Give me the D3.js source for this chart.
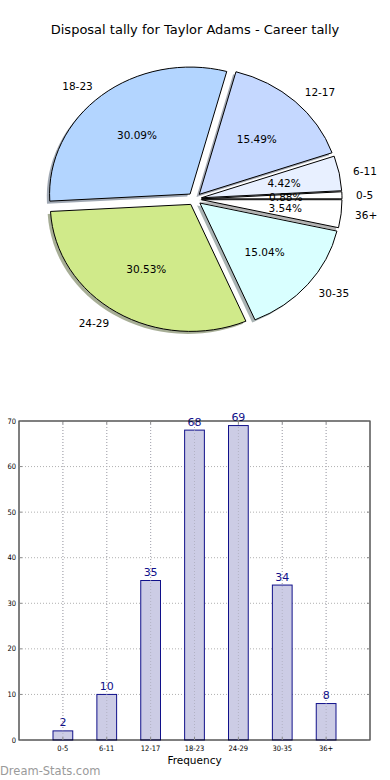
<!DOCTYPE html>
<html>
<head>
<meta charset="utf-8">
<script src="https://cdn.jsdelivr.net/npm/d3@7"></script>
<style>
  html, body { margin: 0; padding: 0; background: #fff; }
  svg { display: block; font-family: "DejaVu Sans", sans-serif; }
</style>
</head>
<body>
<svg id="chart" width="390" height="780"></svg>
<script>
const categories = ["0-5", "6-11", "12-17", "18-23", "24-29", "30-35", "36+"];
const counts = [2, 10, 35, 68, 69, 34, 8];
const sliceColors = ["#ffffff", "#e8f0ff", "#c5d8ff", "#b3d5ff", "#d0ea8a", "#d9ffff", "#ffffff"];
const yTicks = [0, 10, 20, 30, 40, 50, 60, 70];
const titleText = "Disposal tally for Taylor Adams - Career tally";

(function () {
const svg = d3.select("#chart");

// ---------- Title ----------
svg.append("text")
  .attr("x", 195).attr("y", 34)
  .attr("text-anchor", "middle")
  .attr("font-size", 13)
  .attr("fill", "#000")
  .text(titleText);

// ---------- Pie ----------
const cx = 194.5, cy = 199, rx = 140.5, ry = 127;
const R = ry, sx = rx / ry;
const total = d3.sum(counts);
const pie = d3.pie().sort(null).startAngle(Math.PI / 2).endAngle(Math.PI / 2 - 2 * Math.PI);
const arcs = pie(counts);
const arc = d3.arc().innerRadius(0).outerRadius(R);
const explode = 0.05;

const pg = svg.append("g").attr("transform", `translate(${cx},${cy}) scale(${sx},1)`);

arcs.forEach((a, i) => {
  const mid = (a.startAngle + a.endAngle) / 2;
  const ox = Math.sin(mid) * explode * R, oy = -Math.cos(mid) * explode * R;
  pg.append("path")
    .attr("d", arc(a))
    .attr("transform", `translate(${ox - 0.02 * R},${oy + 0.02 * R})`)
    .attr("fill", d3.color(sliceColors[i]).darker(2.2))
    .attr("opacity", 0.55);
});
arcs.forEach((a, i) => {
  const mid = (a.startAngle + a.endAngle) / 2;
  const ox = Math.sin(mid) * explode * R, oy = -Math.cos(mid) * explode * R;
  pg.append("path")
    .attr("d", arc(a))
    .attr("transform", `translate(${ox},${oy})`)
    .attr("fill", sliceColors[i])
    .attr("stroke", "#000")
    .attr("stroke-width", 1)
    .attr("vector-effect", "non-scaling-stroke");
});

arcs.forEach((a, i) => {
  const mid = (a.startAngle + a.endAngle) / 2;
  const ux = Math.sin(mid), uy = -Math.cos(mid);
  const ox = ux * explode * rx, oy = uy * explode * ry;
  const lx = cx + ox + 1.1 * rx * ux, ly = cy + oy + 1.1 * ry * uy;
  svg.append("text")
    .attr("x", lx).attr("y", ly)
    .attr("text-anchor", ux > 0 ? "start" : "end")
    .attr("dominant-baseline", "central")
    .attr("font-size", 10.5)
    .text(categories[i]);
  const px = cx + ox + 0.6 * rx * ux, py = cy + oy + 0.6 * ry * uy;
  svg.append("text")
    .attr("x", px).attr("y", py)
    .attr("text-anchor", "middle")
    .attr("dominant-baseline", "central")
    .attr("font-size", 10.5)
    .text((counts[i] / total * 100).toFixed(2) + "%");
});

// ---------- Bar chart ----------
const bLeft = 19, bRight = 370, bTop = 421, bBottom = 740;
const x = d3.scaleLinear().domain([0, categories.length + 1]).range([bLeft, bRight]);
const y = d3.scaleLinear().domain([0, 70]).range([bBottom, bTop]);
const bw = 0.45;
const bg = svg.append("g");

bg.selectAll("line.vg").data(categories).enter().append("line")
  .attr("x1", (d, i) => x(i + 1)).attr("x2", (d, i) => x(i + 1))
  .attr("y1", bTop).attr("y2", bBottom)
  .attr("stroke", "#b0b0b0").attr("stroke-width", 1).attr("stroke-dasharray", "1,2");
bg.selectAll("line.hg").data(yTicks.slice(1, -1)).enter().append("line")
  .attr("x1", bLeft).attr("x2", bRight)
  .attr("y1", d => y(d)).attr("y2", d => y(d))
  .attr("stroke", "#b0b0b0").attr("stroke-width", 1).attr("stroke-dasharray", "1,2");

bg.selectAll("rect.bar").data(counts).enter().append("rect")
  .attr("x", (d, i) => x(i + 1 - bw / 2))
  .attr("width", x(bw) - x(0))
  .attr("y", d => y(d))
  .attr("height", d => y(0) - y(d))
  .attr("fill", "#ccccE5")
  .attr("stroke", "#10108a")
  .attr("stroke-width", 1);

bg.selectAll("line.vg2").data(categories).enter().append("line")
  .attr("x1", (d, i) => x(i + 1)).attr("x2", (d, i) => x(i + 1))
  .attr("y1", bTop).attr("y2", bBottom)
  .attr("stroke", "#a8a8b8").attr("stroke-width", 1).attr("stroke-dasharray", "1,2").attr("opacity", 0.7);

bg.selectAll("text.val").data(counts).enter().append("text")
  .attr("x", (d, i) => x(i + 1))
  .attr("y", d => y(d) - 4.5)
  .attr("text-anchor", "middle")
  .attr("font-size", 11)
  .attr("fill", "#10108a")
  .text(d => d);

bg.append("rect")
  .attr("x", bLeft).attr("y", bTop)
  .attr("width", bRight - bLeft).attr("height", bBottom - bTop)
  .attr("fill", "none").attr("stroke", "#000").attr("stroke-width", 1);

yTicks.forEach(t => {
  bg.append("line").attr("x1", bLeft).attr("x2", bLeft + 3).attr("y1", y(t)).attr("y2", y(t)).attr("stroke", "#888");
  bg.append("line").attr("x1", bRight - 3).attr("x2", bRight).attr("y1", y(t)).attr("y2", y(t)).attr("stroke", "#888");
});
categories.forEach((c, i) => {
  bg.append("line").attr("x1", x(i + 1)).attr("x2", x(i + 1)).attr("y1", bBottom).attr("y2", bBottom - 3).attr("stroke", "#888");
  bg.append("line").attr("x1", x(i + 1)).attr("x2", x(i + 1)).attr("y1", bTop).attr("y2", bTop + 3).attr("stroke", "#888");
});

bg.selectAll("text.yt").data(yTicks).enter().append("text")
  .attr("x", bLeft - 3).attr("y", d => y(d))
  .attr("text-anchor", "end")
  .attr("dominant-baseline", "central")
  .attr("font-size", 7.5)
  .attr("font-family", "'DejaVu Sans Condensed', 'DejaVu Sans', sans-serif")
  .text(d => d);

bg.selectAll("text.xt").data(categories).enter().append("text")
  .attr("x", (d, i) => x(i + 1)).attr("y", bBottom + 11)
  .attr("text-anchor", "middle")
  .attr("font-size", 7.5)
  .attr("font-family", "'DejaVu Sans Condensed', 'DejaVu Sans', sans-serif")
  .text(d => d);

svg.append("text")
  .attr("x", (bLeft + bRight) / 2).attr("y", 764)
  .attr("text-anchor", "middle")
  .attr("font-size", 10.5)
  .text("Frequency");

svg.append("text")
  .attr("x", 0).attr("y", 775)
  .attr("font-size", 11.5)
  .attr("fill", "#9a9a9a")
  .text("Dream-Stats.com");
})();
</script>
</body>
</html>
